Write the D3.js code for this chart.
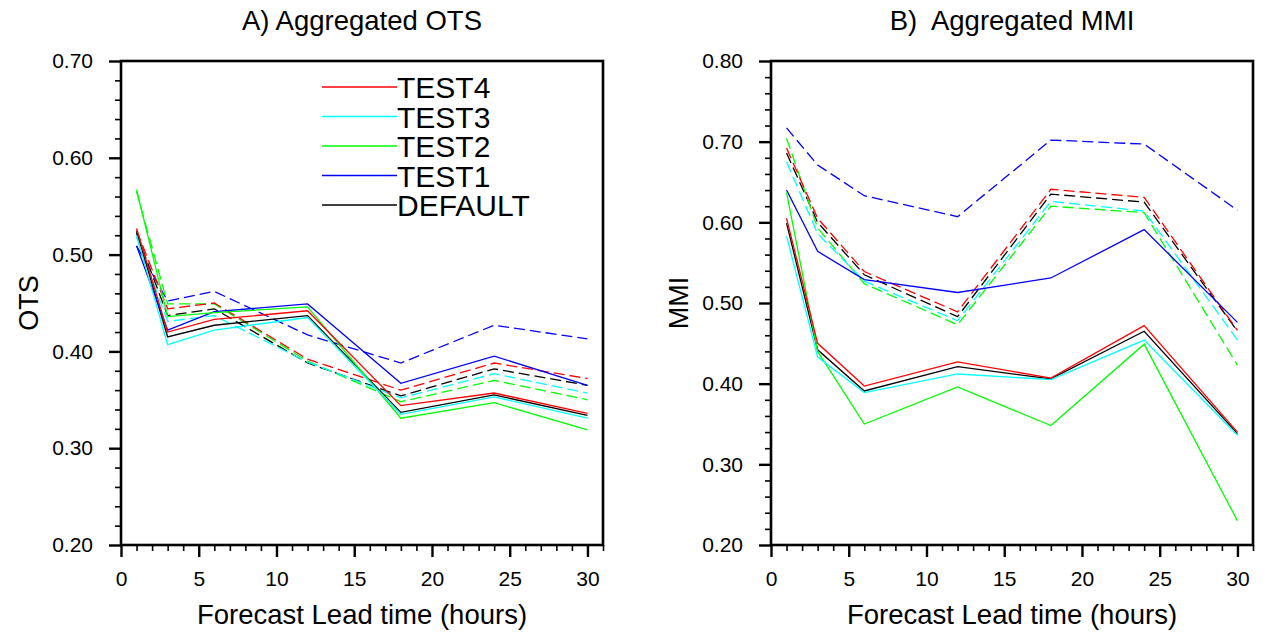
<!DOCTYPE html>
<html>
<head>
<meta charset="utf-8">
<script src="https://cdn.jsdelivr.net/npm/d3@7"></script>
<style>
  body { margin: 0; background: #fff; }
  svg text { font-family: "Liberation Sans", Arial, sans-serif; fill: #000; }
</style>
</head>
<body>
<div id="main"></div>
<script>
// lead times (hours)
var leadTimes = [1, 3, 6, 12, 18, 24, 30];

var expNames = ["DEFAULT", "TEST1", "TEST2", "TEST3", "TEST4"];
var expColors = ["#000000", "#0000ff", "#00ff00", "#00ffff", "#ff0000"];

// OTS, solid lines
var otsSolidDefault = [0.524, 0.415, 0.427, 0.437, 0.337, 0.355, 0.334];
var otsSolidTest1   = [0.509, 0.422, 0.441, 0.449, 0.367, 0.395, 0.365];
var otsSolidTest2   = [0.567, 0.436, 0.440, 0.446, 0.331, 0.347, 0.319];
var otsSolidTest3   = [0.520, 0.407, 0.422, 0.435, 0.335, 0.353, 0.331];
var otsSolidTest4   = [0.527, 0.420, 0.433, 0.442, 0.344, 0.357, 0.336];
// OTS, dashed lines
var otsDashDefault = [0.522, 0.437, 0.444, 0.388, 0.354, 0.382, 0.365];
var otsDashTest1   = [0.509, 0.452, 0.462, 0.417, 0.388, 0.427, 0.413];
var otsDashTest2   = [0.565, 0.449, 0.449, 0.390, 0.348, 0.370, 0.350];
var otsDashTest3   = [0.518, 0.431, 0.437, 0.389, 0.352, 0.377, 0.357];
var otsDashTest4   = [0.525, 0.444, 0.450, 0.392, 0.360, 0.388, 0.372];

// MMI, solid lines
var mmiSolidDefault = [0.599, 0.442, 0.391, 0.421, 0.406, 0.465, 0.338];
var mmiSolidTest1   = [0.640, 0.564, 0.529, 0.513, 0.531, 0.591, 0.476];
var mmiSolidTest2   = [0.637, 0.440, 0.350, 0.396, 0.348, 0.449, 0.230];
var mmiSolidTest3   = [0.583, 0.433, 0.389, 0.412, 0.405, 0.454, 0.336];
var mmiSolidTest4   = [0.605, 0.450, 0.397, 0.427, 0.407, 0.472, 0.340];
// MMI, dashed lines
var mmiDashDefault = [0.686, 0.600, 0.535, 0.483, 0.635, 0.625, 0.465];
var mmiDashTest1   = [0.717, 0.671, 0.633, 0.607, 0.702, 0.697, 0.615];
var mmiDashTest2   = [0.704, 0.593, 0.524, 0.473, 0.620, 0.612, 0.423];
var mmiDashTest3   = [0.675, 0.586, 0.527, 0.478, 0.626, 0.614, 0.454];
var mmiDashTest4   = [0.692, 0.605, 0.539, 0.489, 0.641, 0.631, 0.466];

var otsYTicks = [0.20, 0.30, 0.40, 0.50, 0.60, 0.70];
var mmiYTicks = [0.20, 0.30, 0.40, 0.50, 0.60, 0.70, 0.80];
var xTicks = [0, 5, 10, 15, 20, 25, 30];

// legend order top to bottom
var legendNames = ["TEST4", "TEST3", "TEST2", "TEST1", "DEFAULT"];

var width = 1266, height = 638;
var svg = d3.select("#main").append("svg")
    .attr("width", width)
    .attr("height", height);

function drawPanel(opts) {
    var x = d3.scaleLinear().domain([0, 31]).range([opts.left, opts.left + 482]);
    var y = d3.scaleLinear().domain(opts.yDomain).range([545, 61]);
    var g = svg.append("g");

    var line = d3.line()
        .x((d, i) => x(leadTimes[i]))
        .y(d => y(d));

    // dashed first, then solid
    opts.dashed.forEach((vals, k) => {
        g.append("path")
            .attr("d", line(vals))
            .attr("fill", "none")
            .attr("stroke", expColors[k])
            .attr("stroke-width", 1.3)
            .attr("stroke-dasharray", "11,5");
    });
    opts.solid.forEach((vals, k) => {
        g.append("path")
            .attr("d", line(vals))
            .attr("fill", "none")
            .attr("stroke", expColors[k])
            .attr("stroke-width", 1.3);
    });

    // axes: ticks outward, major 12px minor 6px
    var xMinor = d3.range(0, 32, 1).filter(v => v % 5 != 0);
    g.append("g")
        .attr("transform", "translate(0,545)")
        .call(d3.axisBottom(x).tickValues(xMinor).tickSize(6).tickFormat(""))
        .call(a => a.select(".domain").remove());
    g.append("g")
        .attr("class", "xmajor")
        .attr("transform", "translate(0,545)")
        .call(d3.axisBottom(x).tickValues(xTicks).tickSize(12).tickPadding(14))
        .call(a => a.select(".domain").remove());

    var y0 = opts.yDomain[0], y1 = opts.yDomain[1];
    var yMinor = d3.range(Math.round(y0 * 100), Math.round(y1 * 100) + 1, 2)
        .map(v => v / 100)
        .filter(v => Math.round(v * 100) % 10 != 0);
    g.append("g")
        .attr("transform", "translate(" + opts.left + ",0)")
        .call(d3.axisLeft(y).tickValues(yMinor).tickSize(6).tickFormat(""))
        .call(a => a.select(".domain").remove());
    g.append("g")
        .attr("class", "ymajor")
        .attr("transform", "translate(" + opts.left + ",0)")
        .call(d3.axisLeft(y).tickValues(opts.yTicks).tickSize(12).tickPadding(16).tickFormat(d3.format(".2f")))
        .call(a => a.select(".domain").remove());

    g.selectAll(".tick line").attr("stroke", "#000").attr("stroke-width", 1.6);
    g.selectAll(".xmajor .tick line, .ymajor .tick line").attr("stroke-width", 2.4);
    g.selectAll(".tick text")
        .style("font-size", "21px")
        .style("font-family", "'Liberation Sans', Arial, sans-serif")
        .attr("fill", "#000");

    // frame
    g.append("rect")
        .attr("x", opts.left)
        .attr("y", 61)
        .attr("width", 482)
        .attr("height", 484)
        .attr("fill", "none")
        .attr("stroke", "#000")
        .attr("stroke-width", 2.6);

    // titles
    g.append("text")
        .attr("x", opts.left + 241)
        .attr("y", 30)
        .attr("text-anchor", "middle")
        .style("font-size", "27.5px")
        .style("white-space", "pre")
        .text(opts.title);
    g.append("text")
        .attr("x", opts.left + 241)
        .attr("y", 624)
        .attr("text-anchor", "middle")
        .style("font-size", "27.5px")
        .text("Forecast Lead time (hours)");
    g.append("text")
        .attr("transform", "translate(" + (opts.left - 83) + ",303) rotate(-90)")
        .attr("text-anchor", "middle")
        .style("font-size", "27px")
        .text(opts.yLabel);

    return { x: x, y: y, g: g };
}

var left = drawPanel({
    left: 121,
    yDomain: [0.2, 0.7],
    yTicks: otsYTicks,
    title: "A) Aggregated OTS",
    yLabel: "OTS",
    solid: [otsSolidDefault, otsSolidTest1, otsSolidTest2, otsSolidTest3, otsSolidTest4],
    dashed: [otsDashDefault, otsDashTest1, otsDashTest2, otsDashTest3, otsDashTest4]
});

drawPanel({
    left: 771,
    yDomain: [0.2, 0.8],
    yTicks: mmiYTicks,
    title: "B)  Aggregated MMI",
    yLabel: "MMI",
    solid: [mmiSolidDefault, mmiSolidTest1, mmiSolidTest2, mmiSolidTest3, mmiSolidTest4],
    dashed: [mmiDashDefault, mmiDashTest1, mmiDashTest2, mmiDashTest3, mmiDashTest4]
});

// legend inside left panel (rows sit tight, as in the original)
var legend = svg.append("g").attr("transform", "translate(322,87)");
legendNames.forEach((name, i) => {
    var k = expNames.indexOf(name);
    var row = legend.append("g").attr("transform", "translate(0," + (i * 29.5) + ")");
    row.append("line")
        .attr("x1", 0).attr("x2", 75)
        .attr("y1", 0).attr("y2", 0)
        .attr("stroke", expColors[k])
        .attr("stroke-width", 1.3);
    row.append("text")
        .attr("x", 75)
        .attr("y", 11)
        .style("font-size", "30px")
        .text(name);
});
</script>
</body>
</html>
